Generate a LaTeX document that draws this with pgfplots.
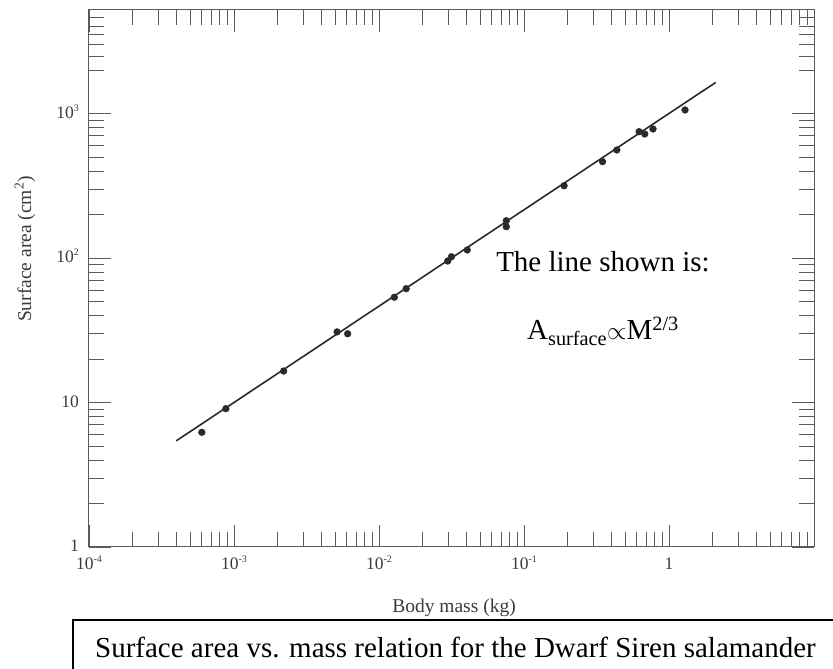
\documentclass[border=0pt]{standalone}
\usepackage{fontspec}
\setmainfont{Liberation Serif}
\usepackage{pgfplots}
\pgfplotsset{compat=1.18}
\definecolor{axgray}{HTML}{5A5A5A}
\definecolor{txtgray}{HTML}{3A3A3A}
\definecolor{ptcol}{HTML}{2A2A2A}
\newcommand{\sups}[1]{\raisebox{0.42em}{\fontsize{10}{10}\selectfont #1}}
\begin{document}
\begin{tikzpicture}[x=1pt,y=1pt]
\begin{axis}[
  at={(0,0)}, anchor=south west,
  scale only axis, width=725pt, height=537pt,
  xmode=log, ymode=log,
  xmin=1e-4, xmax=10, ymin=1, ymax=5200,
  xtick={1e-4,1e-3,1e-2,1e-1,1},
  xticklabels={10\sups{-4},10\sups{-3},10\sups{-2},10\sups{-1},1},
  ytick={1,10,100,1000},
  yticklabels={1,10,10\sups{2},10\sups{3}},
  minor xtick={2e-4,3e-4,4e-4,5e-4,6e-4,7e-4,8e-4,9e-4,
               2e-3,3e-3,4e-3,5e-3,6e-3,7e-3,8e-3,9e-3,
               2e-2,3e-2,4e-2,5e-2,6e-2,7e-2,8e-2,9e-2,
               0.2,0.3,0.4,0.5,0.6,0.7,0.8,0.9,
               2,3,4,5,6,7,8,9},
  minor ytick={2,3,4,5,6,7,8,9,20,30,40,50,60,70,80,90,
               200,300,400,500,600,700,800,900,2000,2500,3000,3500,4000,4600},
  major tick length=22pt, minor tick length=15pt,
  tick style={draw=axgray, line width=0.9pt},
  axis line style={draw=axgray, line width=1pt},
  tick align=inside,
  ticklabel style={font=\fontsize{17.5}{20}\selectfont, text=txtgray},
  xticklabel style={anchor=base, inner sep=0pt, yshift=-23pt},
  yticklabel style={anchor=base east, inner sep=0pt, xshift=-10pt, yshift=-5pt},
  clip=false,
]
\addplot[draw=ptcol, line width=1.6pt] coordinates {(4.0e-4,5.43) (2.1,1640)};
\addplot[only marks, mark=*, mark size=3.4pt, mark options={fill=ptcol, draw=ptcol}] coordinates {
  (6.0e-4,6.22) (8.79e-4,9.06) (2.20e-3,16.5) (5.14e-3,30.8) (6.08e-3,29.9)
  (1.276e-2,53.5) (1.54e-2,61.3) (2.98e-2,95.3) (3.16e-2,102) (4.06e-2,113.6)
  (7.55e-2,181) (7.55e-2,164.7) (0.189,316) (0.348,464) (0.437,559)
  (0.622,748) (0.681,721) (0.776,781) (1.29,1057)
};
\end{axis}
\node[rotate=90, font=\fontsize{19.5}{22}\selectfont, text=txtgray] at (-64,298) {Surface area (cm\textsuperscript{2})};
\node[anchor=base, font=\fontsize{19.5}{22}\selectfont, text=txtgray] at (365,-65.5) {Body mass (kg)};
\node[anchor=base, font=\fontsize{29}{34}\selectfont] at (514,275.3) {The line shown is:};
\node[anchor=base, font=\fontsize{29}{34}\selectfont] at (514,207) {A\textsubscript{surface}$\propto$M\textsuperscript{2/3}};
\draw[line width=1.4pt] (-16,-150) rectangle (770,-73);
\node[anchor=base, font=\fontsize{29}{34}\selectfont] at (366.5,-111) {Surface area vs. mass relation for the Dwarf Siren salamander};
\pgfresetboundingbox
\useasboundingbox (-89,-122) rectangle (744,547);
\end{tikzpicture}
\end{document}
